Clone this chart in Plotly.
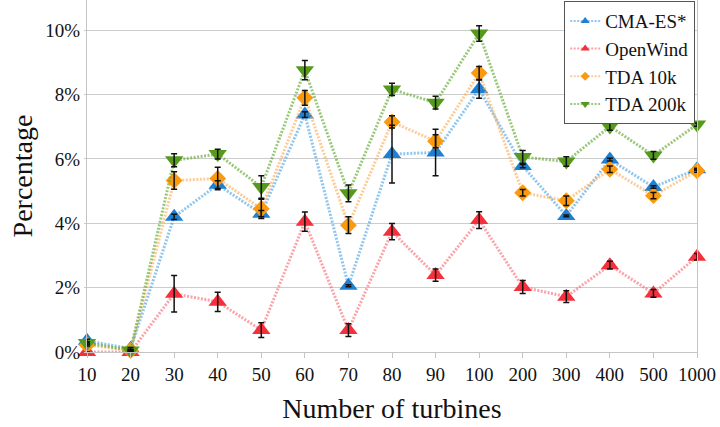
import plotly.graph_objects as go

# Number of turbines (categorical x axis)
turbines = ["10", "20", "30", "40", "50", "60", "70", "80", "90", "100",
            "200", "300", "400", "500", "1000"]

# Percentage values per method, with error bar half-widths
cma = [0.35, 0.10, 4.20, 5.20, 4.30, 7.38, 2.06, 6.15, 6.20, 8.17, 5.78, 4.23, 5.98, 5.13, 5.68]
cma_err = [0.05, 0.04, 0.08, 0.12, 0.10, 0.09, 0.03, 0.90, 0.72, 0.28, 0.05, 0.03, 0.04, 0.04, 0.03]

openwind = [0.0, 0.0, 1.81, 1.56, 0.68, 4.05, 0.68, 3.74, 2.39, 4.10, 2.02, 1.72, 2.70, 1.82, 2.96]
openwind_err = [0.0, 0.0, 0.57, 0.30, 0.23, 0.30, 0.20, 0.25, 0.19, 0.26, 0.20, 0.18, 0.12, 0.12, 0.10]

tda10k = [0.22, 0.05, 5.33, 5.39, 4.45, 7.90, 3.94, 7.15, 6.55, 8.67, 4.95, 4.70, 5.68, 4.86, 5.63]
tda10k_err = [0.03, 0.03, 0.27, 0.35, 0.30, 0.23, 0.26, 0.19, 0.20, 0.20, 0.10, 0.15, 0.10, 0.10, 0.04]

tda200k = [0.28, 0.05, 5.96, 6.15, 5.13, 8.76, 4.93, 8.16, 7.75, 9.90, 6.06, 5.92, 7.01, 6.11, 7.07]
tda200k_err = [0.04, 0.03, 0.20, 0.15, 0.35, 0.30, 0.26, 0.19, 0.20, 0.24, 0.20, 0.15, 0.12, 0.12, 0.05]

y_ticks = [0, 2, 4, 6, 8, 10]
y_tick_text = ["0%", "2%", "4%", "6%", "8%", "10%"]

FONT = "Liberation Serif"

series = [
    ("CMA-ES*", cma, cma_err, "#1f80d2", "rgba(70,160,225,0.6)", "triangle-up", 16),
    ("OpenWind", openwind, openwind_err, "#f5303c", "rgba(245,90,100,0.55)", "triangle-up", 16),
    ("TDA 10k", tda10k, tda10k_err, "#fb9a0e", "rgba(252,170,80,0.6)", "diamond", 13),
    ("TDA 200k", tda200k, tda200k_err, "#559a1c", "rgba(100,170,50,0.65)", "triangle-down", 16),
]

fig = go.Figure()

# Dotted lines with markers
for name, vals, errs, mcol, lcol, sym, size in series:
    fig.add_trace(go.Scatter(
        x=turbines, y=vals, name=name, showlegend=False,
        mode="lines+markers",
        line=dict(color=lcol, width=3, dash="2px,1.5px"),
        marker=dict(symbol=sym, size=size, color=mcol, line=dict(width=0)),
        cliponaxis=False,
    ))

# Error bars drawn above all markers
for name, vals, errs, mcol, lcol, sym, size in series:
    fig.add_trace(go.Scatter(
        x=turbines, y=vals, showlegend=False, hoverinfo="skip",
        mode="markers",
        marker=dict(size=1, color="rgba(0,0,0,0)"),
        error_y=dict(type="data", array=errs, visible=True,
                     color="#111111", thickness=1.5, width=3),
        cliponaxis=False,
    ))

# Legend entries with small marker glyphs
for name, vals, errs, mcol, lcol, sym, size in series:
    fig.add_trace(go.Scatter(
        x=[None], y=[None], name=name, showlegend=True,
        mode="lines+markers",
        line=dict(color=lcol, width=2, dash="2px,1.5px"),
        marker=dict(symbol=sym, size=8 if sym != "diamond" else 7, color=mcol),
    ))

fig.update_layout(
    width=720, height=427,
    margin=dict(l=87, r=23, t=0, b=75),
    paper_bgcolor="white", plot_bgcolor="white",
    font=dict(family=FONT, size=19, color="#111111"),
    legend=dict(
        x=0.997, y=0.997, xanchor="right", yanchor="top",
        bgcolor="white", bordercolor="#555555", borderwidth=1,
        font=dict(family=FONT, size=19, color="#111111"),
        itemwidth=30, tracegroupgap=0,
    ),
    xaxis=dict(
        type="category", range=[0, 14],
        title=dict(text="Number of turbines", font=dict(size=28), standoff=14),
        showgrid=False, showline=True, linecolor="#c4c4c4", linewidth=1,
        ticks="outside", ticklen=5, tickcolor="#c4c4c4",
        zeroline=False,
    ),
    yaxis=dict(
        range=[0, 10.94],
        tickvals=y_ticks, ticktext=y_tick_text,
        title=dict(text="Percentage", font=dict(size=28), standoff=4),
        showgrid=True, gridcolor="#cccccc", gridwidth=1,
        showline=True, mirror=True, linecolor="#c4c4c4", linewidth=1,
        ticks="outside", ticklen=2, tickcolor="#cccccc",
        zeroline=False,
    ),
)

fig.write_html("out.html")
